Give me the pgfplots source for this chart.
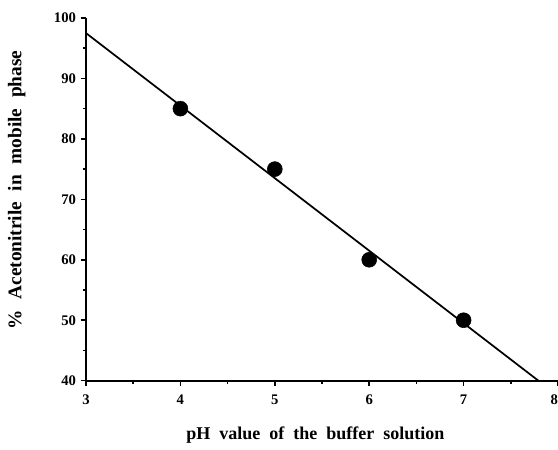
\documentclass[border=0pt]{standalone}
\usepackage{fontspec}
\setmainfont{Liberation Serif}
\usepackage{pgfplots}
\pgfplotsset{compat=1.18}
\begin{document}
\begin{tikzpicture}
\begin{axis}[
  scale only axis,
  width=354pt, height=272pt,
  xmin=3, xmax=8, ymin=40, ymax=100,
  axis x line*=bottom, axis y line*=left,
  axis line style={line width=1.5pt},
  xtick={3,4,5,6,7,8}, ytick={40,50,60,70,80,90,100},
  xticklabels={3,4,5,6,7,\llap{8}},
  minor x tick num=1, minor y tick num=1,
  tick align=outside,
  major tick length=4pt, minor tick length=2.5pt,
  every tick/.style={black, line width=1.2pt},
  /pgf/number format/assume math mode=true,
  tick label style={font=\bfseries\fontsize{11}{13}\selectfont},
  xticklabel style={yshift=-3pt},
  clip=false,
  every axis y label/.style={at={(axis description cs:0,0.5)}, xshift=-52pt, yshift=7pt, rotate=90, anchor=center},
  every axis x label/.style={at={(axis description cs:0.5,0)}, yshift=-40.5pt, xshift=-5pt, anchor=center},
  ylabel={\bfseries\fontsize{14.5}{16}\selectfont \%\hspace{0.55em}Acetonitrile\hspace{0.55em}in\hspace{0.55em}mobile\hspace{0.55em}phase},
  xlabel={\bfseries\fontsize{13.5}{15}\selectfont pH\hspace{0.5em}value\hspace{0.5em}of\hspace{0.5em}the\hspace{0.5em}buffer\hspace{0.5em}solution},
]
\addplot[only marks, mark=*, mark size=5.6pt, black] coordinates {(4,85) (5,75) (6,60) (7,50)};
\addplot[black, line width=1.3pt] coordinates {(3,97.5) (7.7917,40)};
\coordinate (ll) at (axis cs:3,40);
\coordinate (ur) at (axis cs:8,100);
\end{axis}
\pgfresetboundingbox
\useasboundingbox ([shift={(-64.5pt,-51.75pt)}]ll) rectangle ([shift={(0pt,13.5pt)}]ur);
\end{tikzpicture}
\end{document}
